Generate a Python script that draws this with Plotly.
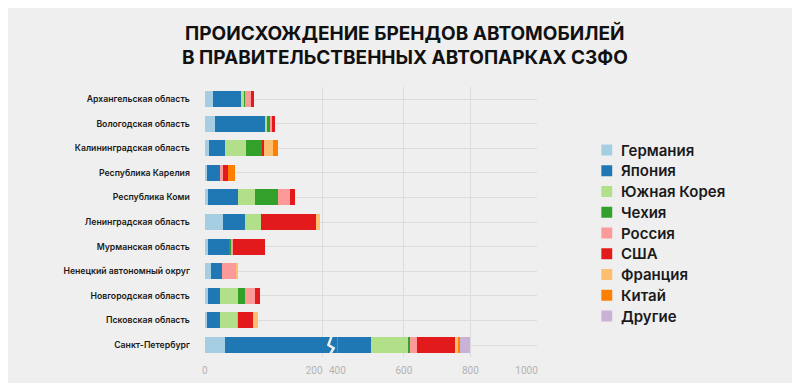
import plotly.graph_objects as go

regions = ["Архангельская область", "Вологодская область", "Калининградская область",
           "Республика Карелия", "Республика Коми", "Ленинградская область",
           "Мурманская область", "Ненецкий автономный округ", "Новгородская область",
           "Псковская область", "Санкт-Петербург"]

series_names = ["Германия", "Япония", "Южная Корея", "Чехия", "Россия", "США",
                "Франция", "Китай", "Другие"]
series_colors = ["#a6cee3", "#1f78b4", "#b2df8a", "#33a02c", "#fb9a99", "#e31a1c",
                 "#fdbf6f", "#ff7f00", "#cab2d6"]

germany = [13, 18, 7, 3, 6, 31, 6, 10, 6, 3, 35]
japan   = [48, 85, 27, 24, 51, 37, 35, 19, 19, 22, 465]
korea   = [6, 3, 36, 0, 28, 27, 0, 0, 32, 30, 114]
czech   = [2, 4, 27, 0, 39, 0, 3, 0, 12, 0, 3]
russia  = [9, 4, 0, 3, 21, 0, 4, 25, 16, 2, 21]
usa     = [5, 6, 4, 9, 8, 94, 55, 0, 9, 25, 119]
france  = [0, 0, 15, 0, 0, 6, 0, 2, 0, 8, 6]
china   = [0, 0, 8, 12, 0, 0, 0, 0, 0, 0, 6]
others  = [0, 0, 0, 0, 0, 0, 0, 0, 0, 0, 30]

series_values = [germany, japan, korea, czech, russia, usa, france, china, others]

title_lines = ["ПРОИСХОЖДЕНИЕ БРЕНДОВ АВТОМОБИЛЕЙ", "В ПРАВИТЕЛЬСТВЕННЫХ АВТОПАРКАХ СЗФО"]

left_ticks = [0, 200]
right_ticks = [400, 600, 800, 1000]

W, H = 800, 383
OFF = 8  # page body margin
BG = "#efefef"
GRID = "#dcdcdc"


def px_x(px):
    return (px - OFF) / W


def px_y(py):
    return 1 - (py - OFF) / H


ypos = list(range(len(regions)))

fig = go.Figure()
for xa in ["x", "x2"]:
    for name, color, vals in zip(series_names, series_colors, series_values):
        fig.add_trace(go.Bar(
            x=vals, y=ypos, orientation="h", name=name,
            marker=dict(color=color, line=dict(width=0)),
            xaxis=xa, yaxis="y", showlegend=False, hoverinfo="x+name",
        ))

# pixel geometry of the broken axis
px0, pxbreak, pxend = 199, 333, 535
scale1 = (318 - 199) / 200.0
scale2 = (pxend - pxbreak) / 600.0
left_max = (pxbreak - px0) / scale1

top_px, bot_px = 86.7, 357.3

# labels near the break / right edge are nudged left (in pixels), as in the original
left_nudge = [0, 8.5]
right_nudge = [0, 0, 0, 10.5]
left_label_pos = [v - n / scale1 for v, n in zip(left_ticks, left_nudge)]
right_label_pos = [v - n / scale2 for v, n in zip(right_ticks, right_nudge)]

tickfont = dict(family="Roboto", size=10, color="#b3b3b3")

fig.update_layout(
    width=W, height=H,
    margin=dict(l=0, r=0, t=0, b=0),
    paper_bgcolor=BG, plot_bgcolor=BG,
    barmode="stack", bargap=0.35,
    showlegend=False,
    xaxis=dict(domain=[px_x(px0), px_x(pxbreak)], range=[0, left_max], anchor="y",
               tickvals=left_label_pos, ticktext=[str(v) for v in left_ticks],
               showgrid=False, zeroline=False,
               minor=dict(tickvals=left_ticks, showgrid=True, gridcolor=GRID,
                          gridwidth=1, ticks=""),
               showline=False, ticks="", ticklabelstandoff=6, tickfont=tickfont),
    xaxis2=dict(domain=[px_x(pxbreak), px_x(pxend)], range=[400, 1000.5], anchor="y",
                tickvals=right_label_pos, ticktext=[str(v) for v in right_ticks],
                showgrid=False, zeroline=False,
                minor=dict(tickvals=right_ticks, showgrid=True, gridcolor=GRID,
                           gridwidth=1, ticks=""),
                showline=False, ticks="", ticklabelstandoff=6, tickfont=tickfont),
    yaxis=dict(domain=[px_y(bot_px), px_y(top_px)], range=[len(regions) - 0.5, -0.5],
               tickvals=ypos, ticktext=regions, anchor="x",
               showgrid=True, gridcolor=GRID, gridwidth=1, zeroline=False,
               showline=False, ticks="", ticklabelstandoff=14,
               tickfont=dict(family="Inter", size=8.7, color="#1a1a1a", weight=600)),
)

# break mark on the long bar
fig.add_shape(type="path", xref="x", yref="y",
              path="M 215.5 9.64 L 210 10.0 L 219 10.13 L 213 10.37",
              line=dict(color=BG, width=2.5), layer="above")

# title
for i, line in enumerate(title_lines):
    fig.add_annotation(text=line, xref="paper", yref="paper", x=px_x(401),
                       y=px_y(33 + i * 25), xanchor="center", yanchor="middle",
                       showarrow=False,
                       font=dict(family="Inter", size=19, color="#111111", weight=700))

# legend (manual, to match spacing)
for i, (name, color) in enumerate(zip(series_names, series_colors)):
    cy = 150 + i * 20.75
    fig.add_shape(type="rect", xref="paper", yref="paper",
                  x0=px_x(600), x1=px_x(611), y0=px_y(cy + 5.5), y1=px_y(cy - 5.5),
                  fillcolor=color, line=dict(width=0))
    fig.add_annotation(text=name, xref="paper", yref="paper", x=px_x(618),
                       y=px_y(cy), xanchor="left", yanchor="middle", showarrow=False,
                       font=dict(family="Inter", size=15, color="#1a1a1a", weight=600))

fig.write_html("out.html")
